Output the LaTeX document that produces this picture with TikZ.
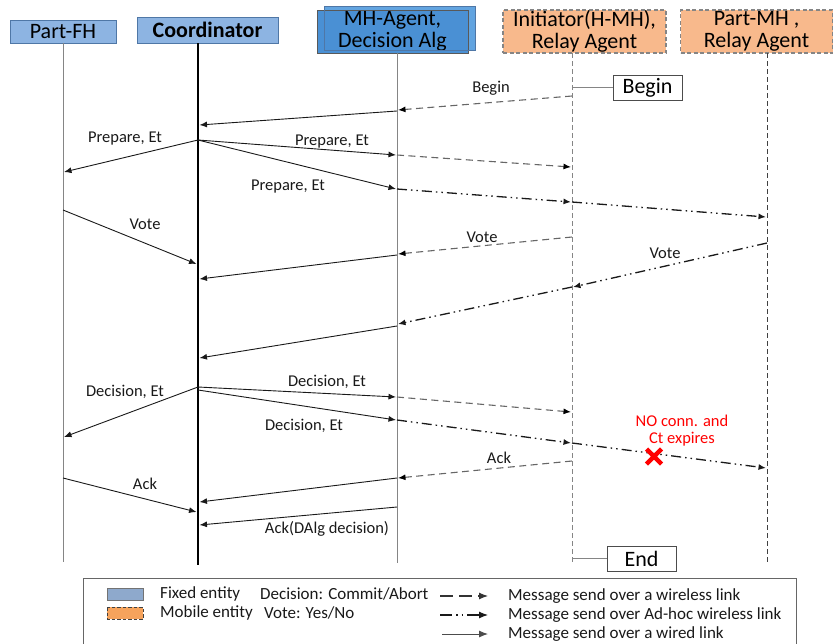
\documentclass[tikz,border=0pt]{standalone}
\usepackage{fontspec}
\setmainfont{Carlito}
\usetikzlibrary{arrows.meta,calc}
\definecolor{hblue}{HTML}{8DB4E2}
\definecolor{hblueB}{HTML}{4F77A6}
\definecolor{mblueA}{HTML}{4A90D4}
\definecolor{mblueB}{HTML}{62A4E0}
\definecolor{horange}{HTML}{F8B98C}
\definecolor{lblue}{HTML}{8EA9CC}
\definecolor{lorange}{HTML}{F6A35C}
\definecolor{wgray}{HTML}{666666}
\definecolor{lgray}{HTML}{858585}
\newcommand\hfont{\fontsize{22}{21.5}\selectfont}
\newcommand\lfont{\fontsize{16.5}{18}\selectfont}
\newcommand\gfont{\fontsize{17}{18}\selectfont}
\begin{document}
\begin{tikzpicture}[x=1pt,y=-1pt,
  hdr/.style={draw=hblueB, line width=0.9pt, inner sep=0pt, align=center, font=\hfont, text=black},
  mobhdr/.style={hdr, fill=horange, draw=lgray, dash pattern=on 4pt off 2.5pt, line width=1.1pt},
  tipA/.tip={Latex[length=7.5pt,width=6pt]},
  wired/.style={draw=black!90, line width=0.9pt, -tipA},
  wireless/.style={draw=wgray, line width=1.1pt, dash pattern=on 7pt off 4.5pt, -{tipA[black]}},
  adhoc/.style={draw=black!90, line width=1.3pt, dash pattern=on 10pt off 4pt on 1.5pt off 4pt on 1.5pt off 4pt, -tipA},
  lbl/.style={font=\lfont, text=black!90, inner sep=0pt},
  endbox/.style={draw=black!70, line width=0.9pt, font=\hfont, minimum width=69pt, minimum height=25pt, inner sep=0pt},
  lifeline/.style={draw=lgray, line width=1pt},
  mobline/.style={draw=lgray, line width=1pt, dash pattern=on 5pt off 3pt},
  legtext/.style={font=\gfont, text=black!90, anchor=west, inner sep=0pt}
]
\useasboundingbox (0,0) rectangle (833,643);
\begin{scope}
\clip (0,0) rectangle (833,643);

% ---- header boxes ----
\node[hdr, fill=hblue, minimum width=106pt, minimum height=23pt] (FH) at (63,31.5) {Part-FH};
\node[hdr, fill=hblue, minimum width=141pt, minimum height=26pt, font=\hfont\bfseries] (CO) at (207.5,30) {Coordinator};
\path[fill=mblueB] (324,6) rectangle (475,50);
\node[hdr, fill=mblueA, draw=black!65, minimum width=151pt, minimum height=43pt] (MH) at (392.5,31.5) {MH-Agent,\\Decision Alg};
\draw[hblueB, line width=0.8pt] (324,6) rectangle (475,50);
\node[mobhdr, minimum width=163pt, minimum height=43pt] (IN) at (584.5,31.5) {Initiator(H-MH),\\Relay Agent};
\node[mobhdr, minimum width=152pt, minimum height=43pt] (PM) at (756.5,31.5) {Part-MH ,\\Relay Agent};

% ---- lifeline x positions ----
\coordinate (lFH) at (63,0);
\coordinate (lCO) at (198,0);
\coordinate (lMH) at (397,0);
\coordinate (lIN) at (572,0);
\coordinate (lPM) at (767,0);

\draw[lifeline] ($(lFH)+(0,43)$) -- ($(lFH)+(0,562)$);
\draw[draw=black, line width=2.6pt] ($(lCO)+(0,43)$) -- ($(lCO)+(0,565)$);
\draw[lifeline] ($(lMH)+(0,53)$) -- ($(lMH)+(0,563)$);
\draw[mobline] ($(lIN)+(0,53)$) -- ($(lIN)+(0,562)$);
\draw[mobline, draw=black!75] ($(lPM)+(0,53)$) -- ($(lPM)+(0,562)$);

% ---- Begin / End ----
\node[endbox] (BEG) at (647.5,87.5) {Begin};
\node[endbox] (END) at (641.5,558.5) {End};
\draw[lgray, line width=1pt] ($(lIN)+(0,87.5)$) -- (BEG.west);
\draw[lgray, line width=1pt] ($(lIN)+(0,558.5)$) -- (END.west);

% ---- Begin ----
\draw[wireless] ($(lIN)+(0,96)$) -- ($(lMH)+(1,110)$);
\draw[wired] ($(lMH)+(0,111)$) -- ($(lCO)+(1.5,125)$);
\node[lbl] (tBegin) at (491,88) {Begin};

% ---- Prepare ----
\draw[wired] ($(lCO)+(0,140)$) -- ($(lFH)+(1,172)$);
\draw[wired] ($(lCO)+(0,140)$) -- ($(lMH)+(-1,155)$);
\draw[wireless] ($(lMH)+(0,155)$) -- ($(lIN)+(-1,167)$);
\draw[wired] ($(lCO)+(0,140)$) -- ($(lMH)+(-1,189)$);
\draw[adhoc] ($(lMH)+(0,189)$) -- ($(lIN)+(-1,202)$);
\draw[adhoc] ($(lIN)+(0,202)$) -- ($(lPM)+(-1,217)$);
\node[lbl] (tP1) at (125,139) {Prepare, Et};
\node[lbl] (tP2) at (332,142) {Prepare, Et};
\node[lbl] (tP3) at (288,187) {Prepare, Et};

% ---- Vote ----
\draw[wired] ($(lFH)+(0,210)$) -- ($(lCO)+(-1.5,264)$);
\draw[wireless] ($(lIN)+(0,237)$) -- ($(lMH)+(1,254)$);
\draw[wired] ($(lMH)+(0,255)$) -- ($(lCO)+(1.5,279)$);
\draw[adhoc] ($(lPM)+(0,243)$) -- ($(lIN)+(1,287)$);
\draw[adhoc] ($(lIN)+(0,287)$) -- ($(lMH)+(1,324)$);
\draw[wired] ($(lMH)+(0,326)$) -- ($(lCO)+(1.5,358)$);
\node[lbl] (tV1) at (145,224) {Vote};
\node[lbl] (tV2) at (482,237) {Vote};
\node[lbl] (tV3) at (665,253) {Vote};

% ---- Decision ----
\draw[wired] ($(lCO)+(0,387)$) -- ($(lFH)+(1,437)$);
\draw[wired] ($(lCO)+(0,387)$) -- ($(lMH)+(-1,397)$);
\draw[wireless] ($(lMH)+(0,397)$) -- ($(lIN)+(-1,412)$);
\draw[wired] ($(lCO)+(0,390)$) -- ($(lMH)+(-1,420)$);
\draw[adhoc] ($(lMH)+(0,420)$) -- ($(lIN)+(-1,443)$);
\draw[adhoc] ($(lIN)+(0,443)$) -- ($(lPM)+(-1,468)$);
\node[lbl] (tD1) at (125,392) {Decision, Et};
\node[lbl] (tD2) at (327,382) {Decision, Et};
\node[lbl] (tD3) at (304,426) {Decision, Et};
\node[lbl, text=red, align=center, font=\fontsize{16.5}{17}\selectfont] (tNO) at (682,430.5) {NO conn. and\\Ct expires};
\coordinate (xc) at (654,456.5);
\draw[red, line width=4.5pt] ($(xc)+(-7.5,-7.5)$) -- ($(xc)+(7.5,7.5)$) ($(xc)+(7.5,-7.5)$) -- ($(xc)+(-7.5,7.5)$);

% ---- Ack ----
\draw[wired] ($(lFH)+(0,478)$) -- ($(lCO)+(-1.5,512)$);
\draw[wireless] ($(lIN)+(0,461)$) -- ($(lMH)+(1,478)$);
\draw[wired] ($(lMH)+(0,478)$) -- ($(lCO)+(1.5,502)$);
\draw[wired] ($(lMH)+(0,507)$) -- ($(lCO)+(1.5,525)$);
\node[lbl] (tA1) at (145,484) {Ack};
\node[lbl] (tA2) at (499,458) {Ack};
\node[lbl] (tA3) at (327,529) {Ack(DAlg decision)};

% ---- legend ----
\draw[draw=black!60, line width=1pt] (83,578) rectangle (796,670);
\path[draw=black!55, line width=0.8pt, fill=lblue] (107,588) rectangle (143,600);
\path[draw=black!75, line width=1pt, dash pattern=on 3.5pt off 2pt, fill=lorange] (107,607) rectangle (143,619);
\node[legtext] (lg1) at (160,594) {Fixed entity};
\node[legtext] (lg2) at (260,594) {Decision: Commit/Abort};
\node[legtext] (lg3) at (160,613) {Mobile entity};
\node[legtext] (lg4) at (264,613) {Vote: Yes/No};
\coordinate (a1s) at (440,596); \coordinate (a1e) at (488,596);
\coordinate (a2s) at (440,615); \coordinate (a2e) at (488,615);
\coordinate (a3s) at (442,634); \coordinate (a3e) at (488,634);
\draw[wireless, draw=black!80, dash pattern=on 13pt off 6pt, -{Latex[length=9pt,width=7pt]}] (a1s) -- (a1e);
\draw[adhoc, line width=1.1pt, dash pattern=on 12pt off 4pt on 1.5pt off 4pt on 1.5pt off 4pt, -{Latex[length=9pt,width=7pt]}] (a2s) -- (a2e);
\draw[wired, draw=black!70, -{Latex[length=9pt,width=7pt]}] (a3s) -- (a3e);
\node[legtext] (lg5) at (508,596) {Message send over a wireless link};
\node[legtext] (lg6) at (508,615) {Message send over Ad-hoc wireless link};
\node[legtext] (lg7) at (508,634) {Message send over a wired link};
\end{scope}
\end{tikzpicture}
\end{document}
